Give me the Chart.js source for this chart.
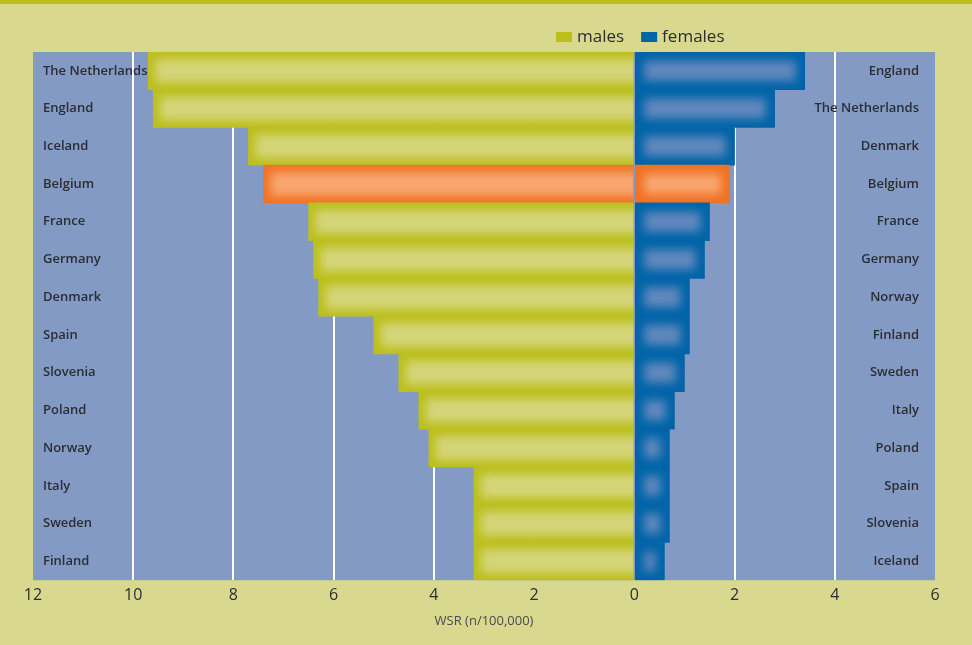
<!DOCTYPE html>
<html>
<head>
<meta charset="utf-8">
<script src="https://cdn.jsdelivr.net/npm/chart.js@4"></script>
<style>
  html, body { margin: 0; padding: 0; background: #d8d98e; }
  #wrap { width: 972px; height: 645px; }
</style>
</head>
<body>
<div id="wrap"><canvas id="wsrChart" width="972" height="645"></canvas></div>
<script>
// rows are ranked separately for each sex
const maleCountries = ["The Netherlands", "England", "Iceland", "Belgium", "France", "Germany", "Denmark",
  "Spain", "Slovenia", "Poland", "Norway", "Italy", "Sweden", "Finland"];
const maleValues = [9.7, 9.6, 7.7, 7.4, 6.5, 6.4, 6.3, 5.2, 4.7, 4.3, 4.1, 3.2, 3.2, 3.2];

const femaleCountries = ["England", "The Netherlands", "Denmark", "Belgium", "France", "Germany", "Norway",
  "Finland", "Sweden", "Italy", "Poland", "Spain", "Slovenia", "Iceland"];
const femaleValues = [3.4, 2.8, 2.0, 1.9, 1.5, 1.4, 1.1, 1.1, 1.0, 0.8, 0.7, 0.7, 0.7, 0.6];

const highlight = "Belgium";

const COLORS = {
  page: "#d8d98e",
  topLine: "#bcbf18",
  plot: "#839bc4",
  male: "#bcbf1c", maleInner: "#d4d579",
  female: "#0064a8", femaleInner: "#6188bd",
  hi: "#f07224", hiInner: "#f9a670",
  text: "#2c2c34"
};
const LABEL_FONT = "600 13px 'Open Sans'";

// page background, top rule and plot panel
const backdrop = {
  id: "backdrop",
  beforeDraw(chart) {
    const { ctx, chartArea: a, width } = chart;
    ctx.save();
    ctx.fillStyle = COLORS.page;
    ctx.fillRect(0, 0, width, chart.height);
    ctx.fillStyle = COLORS.topLine;
    ctx.fillRect(0, 0, width, 4);
    ctx.fillStyle = COLORS.plot;
    ctx.fillRect(a.left, a.top, a.right - a.left, a.bottom - a.top);
    ctx.restore();
  }
};

// soft lighter core inside every bar
const barGlow = {
  id: "barGlow",
  afterDatasetsDraw(chart) {
    const ctx = chart.ctx;
    chart.data.datasets.forEach((ds, di) => {
      const meta = chart.getDatasetMeta(di);
      const names = di === 0 ? maleCountries : femaleCountries;
      meta.data.forEach((bar, i) => {
        const p = bar.getProps(["x", "y", "base", "height"], true);
        const left = Math.min(p.x, p.base), right = Math.max(p.x, p.base);
        const top = p.y - p.height / 2;
        const inner = names[i] === highlight ? COLORS.hiInner : (di === 0 ? COLORS.maleInner : COLORS.femaleInner);
        const ins = di === 0 ? 7 : 9;
        ctx.save();
        ctx.beginPath();
        ctx.rect(left, top, right - left, p.height);
        ctx.clip();
        ctx.filter = "blur(5px)";
        ctx.fillStyle = inner;
        const rEdge = di === 0 ? right + 10 : right - ins;
        ctx.fillRect(left + ins, top + ins, rEdge - left - ins, p.height - 2 * ins);
        ctx.restore();
      });
    });
  }
};

// female country names, right-aligned inside the panel on the same rows
const rightLabels = {
  id: "rightLabels",
  afterDraw(chart) {
    const { ctx, chartArea: a } = chart;
    const yScale = chart.scales.y;
    ctx.save();
    ctx.font = LABEL_FONT;
    ctx.fillStyle = COLORS.text;
    ctx.textAlign = "right";
    ctx.textBaseline = "middle";
    femaleCountries.forEach((name, i) => {
      ctx.fillText(name, a.right - 16, yScale.getPixelForValue(i));
    });
    ctx.restore();
  }
};

// legend above the panel
const topLegend = {
  id: "topLegend",
  afterDraw(chart) {
    const ctx = chart.ctx;
    const items = [["males", COLORS.male], ["females", COLORS.female]];
    let x = 556;
    const y = 37;
    ctx.save();
    ctx.font = "17px 'Open Sans'";
    ctx.textBaseline = "middle";
    items.forEach(([txt, col]) => {
      ctx.fillStyle = col;
      ctx.fillRect(x, y - 5, 16, 10);
      ctx.fillStyle = COLORS.text;
      ctx.fillText(txt, x + 21, y);
      x += 21 + ctx.measureText(txt).width + 17;
    });
    ctx.restore();
  }
};

const barColor = (names, base) => ctx => names[ctx.dataIndex] === highlight ? COLORS.hi : base;

new Chart(document.getElementById("wsrChart"), {
  type: "bar",
  data: {
    labels: maleCountries,
    datasets: [{
      label: "males",
      data: maleValues.map(v => -v),
      backgroundColor: barColor(maleCountries, COLORS.male),
      categoryPercentage: 1,
      barPercentage: 1
    }, {
      label: "females",
      data: femaleValues,
      backgroundColor: barColor(femaleCountries, COLORS.female),
      categoryPercentage: 1,
      barPercentage: 1
    }]
  },
  options: {
    indexAxis: "y",
    responsive: false,
    animation: false,
    layout: { padding: { top: 52, left: 13, right: 37, bottom: 12 } },
    plugins: { legend: { display: false }, tooltip: { enabled: false } },
    scales: {
      x: {
        stacked: true,
        min: -12, max: 6,
        border: { display: false },
        grid: {
          drawTicks: false,
          lineWidth: 2,
          color: c => [0, -12, 6].includes(c.tick.value) ? "rgba(0,0,0,0)" : "#ffffff"
        },
        ticks: {
          stepSize: 2,
          padding: 6,
          color: COLORS.text,
          font: { family: "'Open Sans'", size: 16, weight: "500" },
          callback: v => Math.abs(v)
        },
        title: {
          display: true,
          text: "WSR (n/100,000)",
          color: "#4a4a50",
          padding: { top: 2, bottom: 4 },
          font: { family: "'Open Sans'", size: 13 }
        }
      },
      y: {
        stacked: true,
        z: 1,
        border: { display: false },
        grid: { display: false, drawTicks: false },
        ticks: {
          mirror: true,
          padding: 10,
          color: COLORS.text,
          font: { family: "'Open Sans'", size: 13, weight: "600" }
        }
      }
    }
  },
  plugins: [backdrop, barGlow, rightLabels, topLegend]
});
</script>
</body>
</html>
